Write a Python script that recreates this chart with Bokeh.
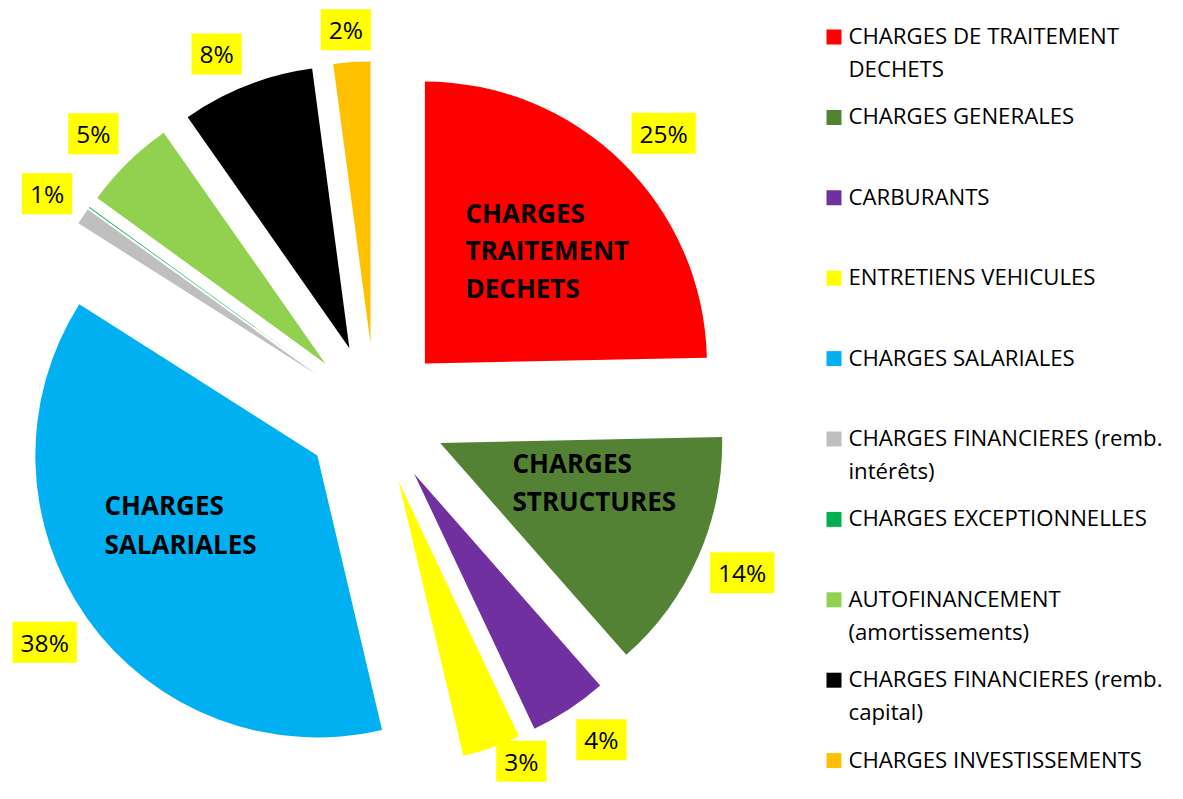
import math
from bokeh.plotting import figure
from bokeh.models import Range1d, ColumnDataSource
from bokeh.core.properties import value
from bokeh.embed import file_html
from bokeh.resources import INLINE

# ---------------- data ----------------
categories = [
    "CHARGES DE TRAITEMENT\nDECHETS",
    "CHARGES GENERALES",
    "CARBURANTS",
    "ENTRETIENS VEHICULES",
    "CHARGES SALARIALES",
    "CHARGES FINANCIERES (remb.\nintérêts)",
    "CHARGES EXCEPTIONNELLES",
    "AUTOFINANCEMENT\n(amortissements)",
    "CHARGES FINANCIERES (remb.\ncapital)",
    "CHARGES INVESTISSEMENTS",
]
shares = [24.67, 13.86, 4.45, 3.33, 37.69, 0.94, 0.05, 5.28, 7.61, 2.11]
colors = ["#FF0000", "#548235", "#7030A0", "#FFFF00", "#00B0F0",
          "#BFBFBF", "#00B050", "#92D050", "#000000", "#FFC000"]
callouts = ["CHARGES\nTRAITEMENT\nDECHETS", "CHARGES\nSTRUCTURES", "CHARGES\nSALARIALES"]

# ---------------- layout ----------------
W, H = 1167, 783
FONT = "Open Sans"
def Y(img_y):
    return H - img_y

CX, CY = 374.7, Y(413.8)
R = 282.0
EXPLODE = 71.0

p = figure(width=W, height=H, x_range=Range1d(0, W), y_range=Range1d(0, H),
           output_backend="svg", toolbar_location=None, min_border=0,
           x_axis_location=None, y_axis_location=None)
p.grid.visible = False
p.outline_line_color = None
p.background_fill_color = "white"
p.border_fill_color = "white"

total = float(sum(shares))
acc = 0.0
wx, wy, sa, ea, mids = [], [], [], [], []
for s in shares:
    t1 = acc / total * 360.0
    acc += s
    t2 = acc / total * 360.0
    mid = math.radians((t1 + t2) / 2)
    mids.append(mid)
    wx.append(CX + EXPLODE * math.sin(mid))
    wy.append(CY + EXPLODE * math.cos(mid))
    sa.append(math.radians(90 - t1))
    ea.append(math.radians(90 - t2))

src = ColumnDataSource(dict(x=wx, y=wy, sa=sa, ea=ea, color=colors))
p.wedge(x="x", y="y", radius=R, start_angle="sa", end_angle="ea", direction="clock",
        fill_color="color", line_color=None, source=src)

# percentage labels (outside end, kept inside the chart area)
def clamp(v):
    return max(-1.0, min(1.0, v))

lx, ly, lt = [], [], []
for i, s in enumerate(shares):
    pct = s / total * 100
    if round(pct) == 0:
        continue
    txt = f"{pct:.0f}%"
    hw = 10.5 + 7 * len(txt)
    hh = 20.25
    m = mids[i]
    base = R + 12
    x = wx[i] + base * math.sin(m) + (hw + 1.5) * clamp(3 * math.sin(m))
    y = wy[i] + base * math.cos(m) + hh * clamp(1.4 * math.cos(m))
    y = max(y, hh + 2)
    lx.append(x)
    ly.append(y)
    lt.append(txt)

p.text(x=lx, y=ly, text=lt, text_font=value(FONT), text_font_size="24.5px",
       text_color="black", text_align="center", text_baseline="middle",
       background_fill_color="#FFFF00",
       padding=dict(left=8, right=8, top=4, bottom=4))

# callout text boxes inside slices (x, first line centre, line step)
callout_pos = [(465, 212.7, 37.2), (512, 462.3, 38.4), (104, 504.3, 38.9)]
cx_, cy_, ct_ = [], [], []
for (x0, yc, step), txt in zip(callout_pos, callouts):
    for k, line in enumerate(txt.split("\n")):
        cx_.append(x0)
        cy_.append(Y(yc + k * step))
        ct_.append(line)
p.text(x=cx_, y=cy_, text=ct_, text_font=value(FONT), text_font_size="26px",
       text_font_style="bold", text_color="black", text_align="left",
       text_baseline="middle")

# legend
mk_x, mk_y = [], []
tx, ty, tt = [], [], []
for i, cat in enumerate(categories):
    yc = 36.5 + 80.4 * i
    mk_x.append(833.5)
    mk_y.append(Y(yc))
    for k, line in enumerate(cat.split("\n")):
        tx.append(848)
        ty.append(Y(yc - 1.5 + 33 * k))
        tt.append(line)
p.rect(x=mk_x, y=mk_y, width=15, height=15, width_units="screen", height_units="screen",
       fill_color=colors, line_color=None)
p.text(x=tx, y=ty, text=tt, text_font=value(FONT), text_font_size="22.2px",
       text_color="black", text_align="left", text_baseline="middle")

open("out.html", "w").write(file_html(p, INLINE))
